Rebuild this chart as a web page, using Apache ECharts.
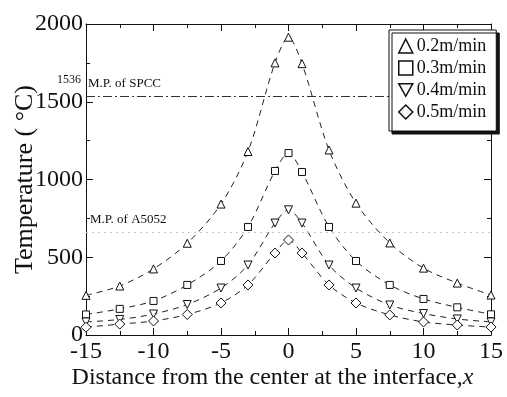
<!DOCTYPE html>
<html>
<head>
<meta charset="utf-8">
<script src="https://cdn.jsdelivr.net/npm/echarts@6/dist/echarts.min.js"></script>
<style>
html,body{margin:0;padding:0;background:#fff;}
#chart{width:507px;height:397px;}
</style>
</head>
<body>
<div id="chart"></div>
<script>
// distance from center (x) and temperature per feed speed
let xs = [-15, -12.5, -10, -7.5, -5, -3, -1, 0, 1, 3, 5, 7.5, 10, 12.5, 15];
let v02 = [255, 315, 425, 590, 842, 1180, 1750, 1915, 1745, 1190, 848, 592, 430, 334, 257];
let v03 = [132, 168, 219, 322, 476, 695, 1055, 1170, 1048, 695, 476, 322, 232, 178, 133];
let v04 = [84, 100, 135, 196, 302, 450, 720, 805, 720, 450, 302, 193, 138, 103, 84];
let v05 = [50, 70, 90, 132, 206, 322, 527, 611, 527, 322, 206, 129, 84, 64, 51];
let names = ['0.2m/min', '0.3m/min', '0.4m/min', '0.5m/min'];
let spccMP = 1536;
let a5052MP = 660;

let font = 'Liberation Serif';
let invTri = 'path://M0,0 L10,0 L5,9 Z';
let symbols = ['triangle', 'rect', invTri, 'diamond'];
let sizes = [8, 7, 8, 10];

function pairs(vals) {
    return xs.map((x, i) => [x, vals[i]]);
}

let myChart = echarts.init(document.getElementById('chart'), null, {renderer: 'canvas'});

let series = [v02, v03, v04, v05].map((vals, k) => ({
    name: names[k],
    type: 'line',
    data: pairs(vals),
    smooth: 0.3,
    symbol: symbols[k],
    symbolSize: sizes[k],
    showAllSymbol: true,
    lineStyle: {color: '#222', width: 1, type: [6, 5]},
    itemStyle: {color: '#fff', borderColor: '#111', borderWidth: 1},
    z: 3
}));

series.push({
    type: 'line',
    data: [],
    symbol: 'none',
    z: 1,
    markLine: {
        silent: true,
        symbol: 'none',
        data: [
            {
                yAxis: spccMP,
                lineStyle: {color: '#333', width: 1, type: [9, 3, 2, 3]},
                label: {
                    show: true, position: 'insideStartTop', formatter: 'M.P. of SPCC',
                    fontFamily: font, fontSize: 13, color: '#111', distance: [2, 6]
                }
            },
            {
                yAxis: a5052MP,
                lineStyle: {color: '#c8c8c8', width: 1, type: [2, 4]},
                label: {
                    show: true, position: 'insideStartTop', formatter: 'M.P. of A5052',
                    fontFamily: font, fontSize: 13, color: '#111', distance: [4, 6]
                }
            }
        ]
    }
});

let axisCommon = {
    nameMoveOverlap: false,
    axisLine: {onZero: false, lineStyle: {color: '#111', width: 1}},
    axisTick: {inside: true, length: 7, lineStyle: {color: '#111'}},
    minorTick: {show: true, splitNumber: 2, length: 4, lineStyle: {color: '#111'}},
    splitLine: {show: false}
};

myChart.setOption({
    backgroundColor: '#fff',
    animation: false,
    grid: {left: 86, right: 16, top: 24, bottom: 62, outerBoundsMode: 'none', containLabel: false},
    legend: {
        data: names.map((n, k) => ({name: n, icon: symbols[k]})),
        orient: 'vertical',
        left: 389,
        top: 30,
        z: 20,
        padding: [7, 10, 10, 9],
        itemGap: 4,
        itemWidth: 14,
        itemHeight: 14,
        backgroundColor: '#fff',
        borderColor: '#111',
        borderWidth: 1,
        shadowColor: '#111',
        shadowOffsetX: 3,
        shadowOffsetY: 3,
        shadowBlur: 0,
        itemStyle: {color: '#fff', borderColor: '#111', borderWidth: 1.5},
        textStyle: {fontFamily: font, fontSize: 18, lineHeight: 18, color: '#111', padding: [0, 0, 0, -1]}
    },
    xAxis: [
        Object.assign({
            type: 'value', min: -15, max: 15, interval: 5,
            name: 'Distance from the center at the interface,{i|x}',
            nameLocation: 'middle',
            nameGap: 31,
            nameTextStyle: {
                fontFamily: font, fontSize: 24, color: '#111', padding: [0, 32, 0, 0],
                rich: {i: {fontFamily: font, fontSize: 24, fontStyle: 'italic', color: '#111'}}
            },
            axisLabel: {fontFamily: font, fontSize: 24, color: '#111', margin: 5}
        }, axisCommon),
        Object.assign({
            type: 'value', min: -15, max: 15, interval: 5, position: 'top',
            axisLabel: {show: false}
        }, axisCommon)
    ],
    yAxis: [
        Object.assign({
            type: 'value', min: 0, max: 2000, interval: 500,
            name: 'Temperature ( °C)',
            nameLocation: 'middle',
            nameGap: 48,
            nameTextStyle: {fontFamily: font, fontSize: 26, color: '#111'},
            axisLabel: {fontFamily: font, fontSize: 24, color: '#111', margin: 3, formatter: v => String(v)}
        }, axisCommon),
        Object.assign({
            type: 'value', min: 0, max: 2000, interval: 500, position: 'right',
            axisLabel: {show: false}
        }, axisCommon)
    ],
    graphic: [
        {type: 'text', left: 57, top: 74, style: {text: String(spccMP), font: '12px "Liberation Serif"', fill: '#111'}}
    ],
    series: series
});
</script>
</body>
</html>
